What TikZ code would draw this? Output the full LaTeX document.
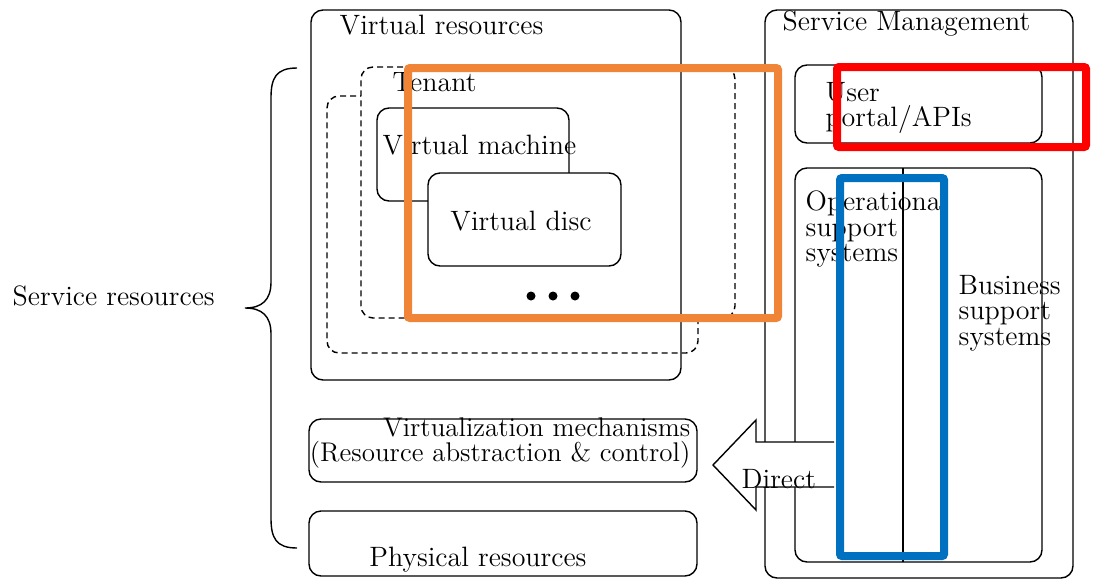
\documentclass[tikz,border=0pt]{standalone}
\usepackage{tikz}
\definecolor{hlorange}{RGB}{240,133,55}
\definecolor{hlred}{RGB}{255,0,0}
\definecolor{hlblue}{RGB}{0,112,192}
\begin{document}
\begin{tikzpicture}[x=0.5pt, y=-0.5pt, line width=0.7pt,
  every node/.style={font=\fontsize{14}{12.8}\selectfont},
  box/.style={draw, rounded corners=6pt, inner sep=0pt, outer sep=0pt, anchor=north west},
  dbox/.style={box, dash pattern=on 3pt off 2pt},
  hl/.style={draw, line width=4pt, rounded corners=1pt, inner sep=0pt, anchor=north west},
  txt/.style={align=left, anchor=west, inner sep=0pt},
  dot/.style={circle, fill, inner sep=0pt, minimum size=4.5pt}]
  \useasboundingbox (0,0) rectangle (1094,580);
  % service resources
  \node [dbox, minimum width=185.5pt, minimum height=128.5pt] (pool) at (327,96) {};
  \node [dbox, fill=white, minimum width=187pt, minimum height=125.5pt] (tenant) at (361,67) {};
  \node [box, minimum width=185pt, minimum height=185pt] (vres) at (311,10) {};
  \node [box, minimum width=96pt, minimum height=46.5pt] (vm) at (377,108) {};
  \node [box, fill=white, minimum width=96.5pt, minimum height=46.5pt] (vdisc) at (428,173) {};
  \node [dot] (d1) at (531,296) {};
  \node [dot] (d2) at (553,296) {};
  \node [dot] (d3) at (575,296) {};
  \node [box, minimum width=194pt, minimum height=31.5pt] (virt) at (309,419) {};
  \node [box, minimum width=194pt, minimum height=32.5pt] (phys) at (309,511) {};
  % service management
  \node [box, minimum width=154pt, minimum height=284pt] (sm) at (765,10) {};
  \node [box, minimum width=123.5pt, minimum height=39pt] (portal) at (795,65) {};
  \node [box, minimum width=123.5pt, minimum height=197pt] (ops) at (795,168) {};
  \draw ([xshift=54pt]ops.north west) -- ([xshift=54pt]ops.south west);
  % direct arrow
  \coordinate (tip) at (713,465);
  \draw [fill=white] (834,442) -- (756,442) -- (756,420) -- (tip) -- (756,510) -- (756,487) -- (834,487);
  % brace
  \draw (297,68) .. controls (276,68) and (271,78) .. (271,98) -- (271,282)
    .. controls (271,300) and (262,308) .. (245,308)
    .. controls (262,308) and (271,316) .. (271,334) -- (271,518)
    .. controls (271,538) and (276,548) .. (297,548);
  % labels
  \node [txt] (tvres) at (339,25) {Virtual resources};
  \node [txt] (ttenant) at (392,82) {Tenant};
  \node [txt] (tvm) at (382,145) {Virtual machine};
  \node (tvdisc) at (521,221) {Virtual disc};
  \node [txt, align=right, anchor=east, font=\fontsize{13.5}{12.8}\selectfont] (tvirt) at (691,443) {Virtualization mechanisms\\(Resource abstraction \& control)};
  \node (tphys) at (478,560) {Physical resources};
  \node [txt] (tsr) at (12,296) {Service resources};
  \node [txt] (tsm) at (782,24) {Service Management};
  \node [txt] (tportal) at (825,108) {User\\portal/APIs};
  \node [txt] (tops) at (805,229) {Operational\\support\\systems};
  \node [txt] (tbss) at (958,313) {Business\\support\\systems};
  \node [txt] (tdirect) at (741,479) {Direct};
  % highlights
  \node [hl, draw=hlorange, minimum width=185pt, minimum height=125pt] (horange) at (404,64) {};
  \node [hl, draw=hlred, minimum width=124.5pt, minimum height=40pt] (hred) at (833,63) {};
  \node [hl, draw=hlblue, minimum width=52pt, minimum height=189pt] (hblue) at (836,174) {};
\end{tikzpicture}
\end{document}
